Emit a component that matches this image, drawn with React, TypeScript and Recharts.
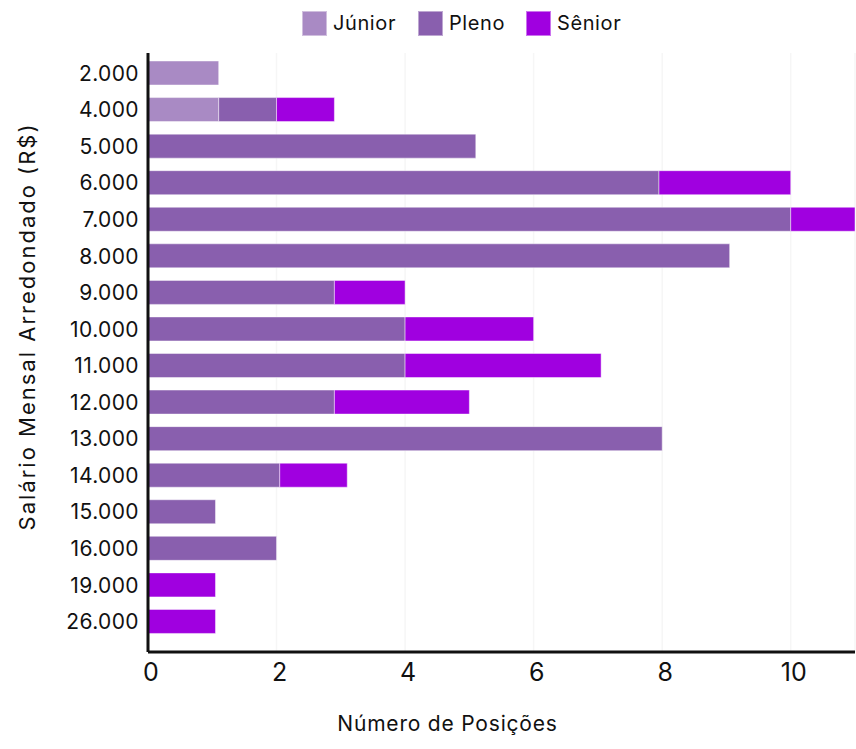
import React from "react";
import {
  BarChart,
  Bar,
  XAxis,
  YAxis,
  CartesianGrid,
  Legend,
} from "recharts";

// Salary buckets (R$) shown on the category axis
const categories = [
  "2.000", "4.000", "5.000", "6.000", "7.000", "8.000", "9.000", "10.000",
  "11.000", "12.000", "13.000", "14.000", "15.000", "16.000", "19.000", "26.000",
];

// Number of positions per seniority level
const junior = [1.1, 1.1, 0, 0, 0, 0, 0, 0, 0, 0, 0, 0, 0, 0, 0, 0];
const pleno = [0, 0.9, 5.1, 7.95, 10, 9.05, 2.9, 4, 4, 2.9, 8, 2.05, 1.05, 2, 0, 0];
const senior = [0, 0.9, 0, 2.05, 1, 0, 1.1, 2, 3.05, 2.1, 0, 1.05, 0, 0, 1.05, 1.05];

const xTicks = [0, 2, 4, 6, 8, 10];

const seriesNames = ["Júnior", "Pleno", "Sênior"];
const seriesColors = ["#a98ac4", "#895fae", "#a000e0"];

const data = categories.map((c, i) => ({
  salario: c,
  junior: junior[i],
  pleno: pleno[i],
  senior: senior[i],
}));

const FONT = "Inter, 'Noto Sans', sans-serif";

// Horizontal offsets of the legend entries
const legendOffsets = [0, 116, 224];

const LegendRow = () => (
  <div
    style={{
      position: "relative",
      height: 26,
      fontFamily: FONT,
      fontSize: 20,
      letterSpacing: 0.6,
      color: "#111",
    }}
  >
    {seriesNames.map((n, i) => (
      <div
        key={n}
        style={{
          position: "absolute",
          left: legendOffsets[i],
          top: 0,
          display: "flex",
          alignItems: "center",
          height: 26,
          whiteSpace: "nowrap",
        }}
      >
        <div
          style={{
            width: 25,
            height: 25,
            background: seriesColors[i],
            boxSizing: "border-box",
            border: "1px solid rgba(255,255,255,0.45)",
            marginRight: 6,
          }}
        />
        <span>{n}</span>
      </div>
    ))}
  </div>
);

export default function App() {
  return (
    <div style={{ position: "absolute", left: 0, top: 0, background: "#fff" }}>
      <BarChart
        width={856}
        height={749}
        data={data}
        layout="vertical"
        margin={{ top: 27, right: 1, bottom: 37, left: 48 }}
        barSize={24}
      >
        <CartesianGrid
          horizontal={false}
          vertical={true}
          stroke="#f6f6f6"
          strokeWidth={1.5}
        />
        <XAxis
          type="number"
          domain={[0, 11]}
          ticks={xTicks}
          allowDataOverflow
          height={60}
          axisLine={{ stroke: "#111", strokeWidth: 3 }}
          tickLine={false}
          tickSize={0}
          tickMargin={11}
          tick={{ fill: "#111", fontSize: 25, fontFamily: FONT, dx: 3 }}
          label={{
            value: "Número de Posições",
            position: "bottom",
            offset: 4,
            dx: -54,
            fill: "#111",
            fontSize: 21,
            letterSpacing: 0.8,
            fontFamily: FONT,
          }}
        />
        <YAxis
          type="category"
          dataKey="salario"
          width={100}
          padding={{ top: 2, bottom: 12 }}
          axisLine={{ stroke: "#111", strokeWidth: 3 }}
          tickLine={false}
          tickSize={0}
          tickMargin={9}
          interval={0}
          tick={{ fill: "#111", fontSize: 21, fontFamily: FONT, letterSpacing: 0.4 }}
          label={{
            value: "Salário Mensal Arredondado (R$)",
            angle: -90,
            position: "insideLeft",
            dx: -26,
            dy: -26,
            style: { textAnchor: "middle" },
            fill: "#111",
            fontSize: 22,
            letterSpacing: 2,
            fontFamily: FONT,
          }}
        />
        <Legend
          layout="vertical"
          verticalAlign="top"
          align="center"
          wrapperStyle={{ position: "absolute", top: 10, left: 302, width: 340 }}
          content={() => <LegendRow />}
        />
        <Bar
          dataKey="junior"
          name="Júnior"
          stackId="a"
          fill={seriesColors[0]}
          stroke="rgba(255,255,255,0.45)"
          strokeWidth={1}
          isAnimationActive={false}
        />
        <Bar
          dataKey="pleno"
          name="Pleno"
          stackId="a"
          fill={seriesColors[1]}
          stroke="rgba(255,255,255,0.45)"
          strokeWidth={1}
          isAnimationActive={false}
        />
        <Bar
          dataKey="senior"
          name="Sênior"
          stackId="a"
          fill={seriesColors[2]}
          stroke="rgba(255,255,255,0.45)"
          strokeWidth={1}
          isAnimationActive={false}
        />
      </BarChart>
    </div>
  );
}
